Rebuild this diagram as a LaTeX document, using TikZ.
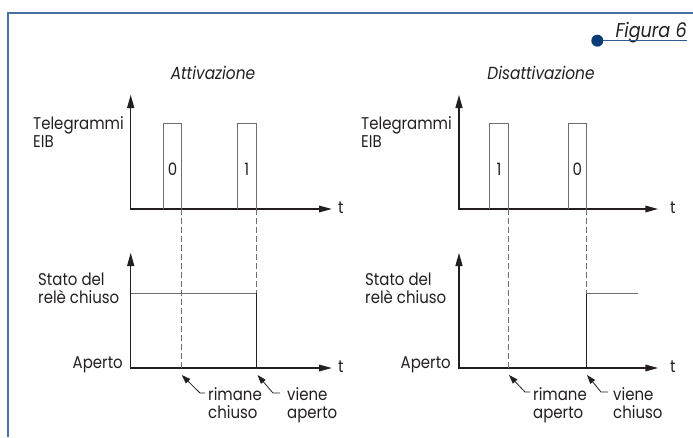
\documentclass[tikz,border=0pt]{standalone}
\usepackage{fontspec}
\setmainfont{Poppins}[FakeStretch=0.88]
\usetikzlibrary{arrows.meta}

\definecolor{framebl}{HTML}{4A71A6}
\definecolor{navy}{HTML}{0B3C78}
\definecolor{ink}{HTML}{231F20}
\definecolor{trace}{HTML}{6D6E71}

\begin{document}
\begin{tikzpicture}[x=1pt,y=-1pt,
  lbl/.style={font=\fontsize{17}{18}\selectfont, text=ink, inner sep=0pt, align=left},
  ttl/.style={font=\fontsize{17.5}{18}\selectfont\itshape, text=ink, inner sep=0pt},
  axis/.style={ink, line width=1.2pt},
  pulse/.style={trace, line width=0.9pt},
  drop/.style={trace, line width=0.9pt, dash pattern=on 6pt off 3pt},
  level/.style={trace, line width=0.9pt},
  pointer/.style={ink, line width=0.8pt, -{Triangle[length=9pt,width=6pt]}}]
  \useasboundingbox (0,0) rectangle (693,437);
  % cornice e titolo
  \draw [framebl, line width=1.8pt] (7.7,437) -- (7.7,12.7) -- (693,12.7);
  \node [ttl, font=\fontsize{20}{20}\selectfont\itshape, anchor=base east] (fig) at (687,37.7) {Figura 6};
  \coordinate (figdot) at (597.3,40.7);
  \draw [navy!85, line width=1pt] (figdot) -- (figdot -| fig.east);
  \fill [navy] (figdot) circle (6pt);
  \node [ttl, anchor=base] (attiv) at (213,79.3) {Attivazione};
  \node [ttl, anchor=base] (disatt) at (541,79.3) {Disattivazione};

  % attivazione, telegrammi
  \draw [axis] (130.7,104) -- (130.7,209) -- (322,209);
  \fill [ink] (130.7,95) -- (127,108) -- (134.4,108) -- cycle;
  \fill [ink] (331.7,209) -- (319,205.5) -- (319,212.5) -- cycle;
  \draw [pulse] (163.3,209) -- (163.3,123) -- (181.7,123) -- (181.7,209);
  \draw [pulse] (237.7,209) -- (237.7,123) -- (256,123) -- (256,209);
  \node [lbl, anchor=base] (bitA0) at (172.5,175) {0};
  \node [lbl, anchor=base] (bitA1) at (246.8,175) {1};
  \node [lbl, anchor=base west] (tgA) at (33,147.5) {Telegrammi\\EIB};
  \node [lbl, anchor=base west] (tA1) at (338,213.5) {t};
  % attivazione, stato del rele
  \draw [axis] (130.7,262) -- (130.7,368) -- (322,368);
  \fill [ink] (130.7,253) -- (127,266) -- (134.4,266) -- cycle;
  \fill [ink] (331.7,368) -- (319,364.5) -- (319,371.5) -- cycle;
  \draw [drop] (181.7,209) -- (181.7,368);
  \draw [drop] (256,209) -- (256,293);
  \draw [ink, line width=0.9pt] (256,293) -- (256,368);
  \draw [level] (130.7,293) -- (256,293);
  \node [lbl, anchor=base west] (stA) at (38,303) {Stato del\\relè chiuso};
  \node [lbl, anchor=base east] (apA) at (123,368) {Aperto};
  \node [lbl, anchor=base west] (tA2) at (338,372.5) {t};
  \coordinate (keepA) at (181.7,375);
  \coordinate (openA) at (257.5,375);
  \node [lbl, anchor=base west] (rmA) at (208,418) {rimane\\chiuso};
  \node [lbl, anchor=base west] (viA) at (287,418) {viene\\aperto};
  \draw [pointer] ([shift={(-3,-25)}]rmA.base west) -- ++(-5,0) -- (keepA);
  \draw [pointer] ([shift={(-7,-25)}]viA.base west) -- ++(-7,0) -- (openA);

  % disattivazione, telegrammi
  \draw [axis] (459,104) -- (459,209) -- (648,209);
  \fill [ink] (459,95) -- (455.3,108) -- (462.7,108) -- cycle;
  \fill [ink] (658,209) -- (645.3,205.5) -- (645.3,212.5) -- cycle;
  \draw [pulse] (489.7,209) -- (489.7,123) -- (508.7,123) -- (508.7,209);
  \draw [pulse] (568,209) -- (568,123) -- (586.3,123) -- (586.3,209);
  \node [lbl, anchor=base] (bitB1) at (499,175) {1};
  \node [lbl, anchor=base] (bitB0) at (577.2,175) {0};
  \node [lbl, anchor=base west] (tgB) at (361,147.5) {Telegrammi\\EIB};
  \node [lbl, anchor=base west] (tB1) at (670,213.5) {t};
  % disattivazione, stato del rele
  \draw [axis] (459,262) -- (459,368) -- (648,368);
  \fill [ink] (459,253) -- (455.3,266) -- (462.7,266) -- cycle;
  \fill [ink] (658,368) -- (645.3,364.5) -- (645.3,371.5) -- cycle;
  \draw [drop] (508.7,209) -- (508.7,368);
  \draw [drop] (586.3,209) -- (586.3,293);
  \draw [ink, line width=0.9pt] (586.3,293) -- (586.3,368);
  \draw [level] (586.3,293) -- (638,293);
  \node [lbl, anchor=base west] (stB) at (365,303) {Stato del\\relè chiuso};
  \node [lbl, anchor=base east] (apB) at (451,368) {Aperto};
  \node [lbl, anchor=base west] (tB2) at (670,372.5) {t};
  \coordinate (keepB) at (509,375);
  \coordinate (closeB) at (587,375);
  \node [lbl, anchor=base west] (rmB) at (533,418) {rimane\\aperto};
  \node [lbl, anchor=base west] (viB) at (613,418) {viene\\chiuso};
  \draw [pointer] ([shift={(-3,-26)}]rmB.base west) -- ++(-5,0) -- (keepB);
  \draw [pointer] ([shift={(-5,-26)}]viB.base west) -- ++(-7,0) -- (closeB);
\end{tikzpicture}
\end{document}
